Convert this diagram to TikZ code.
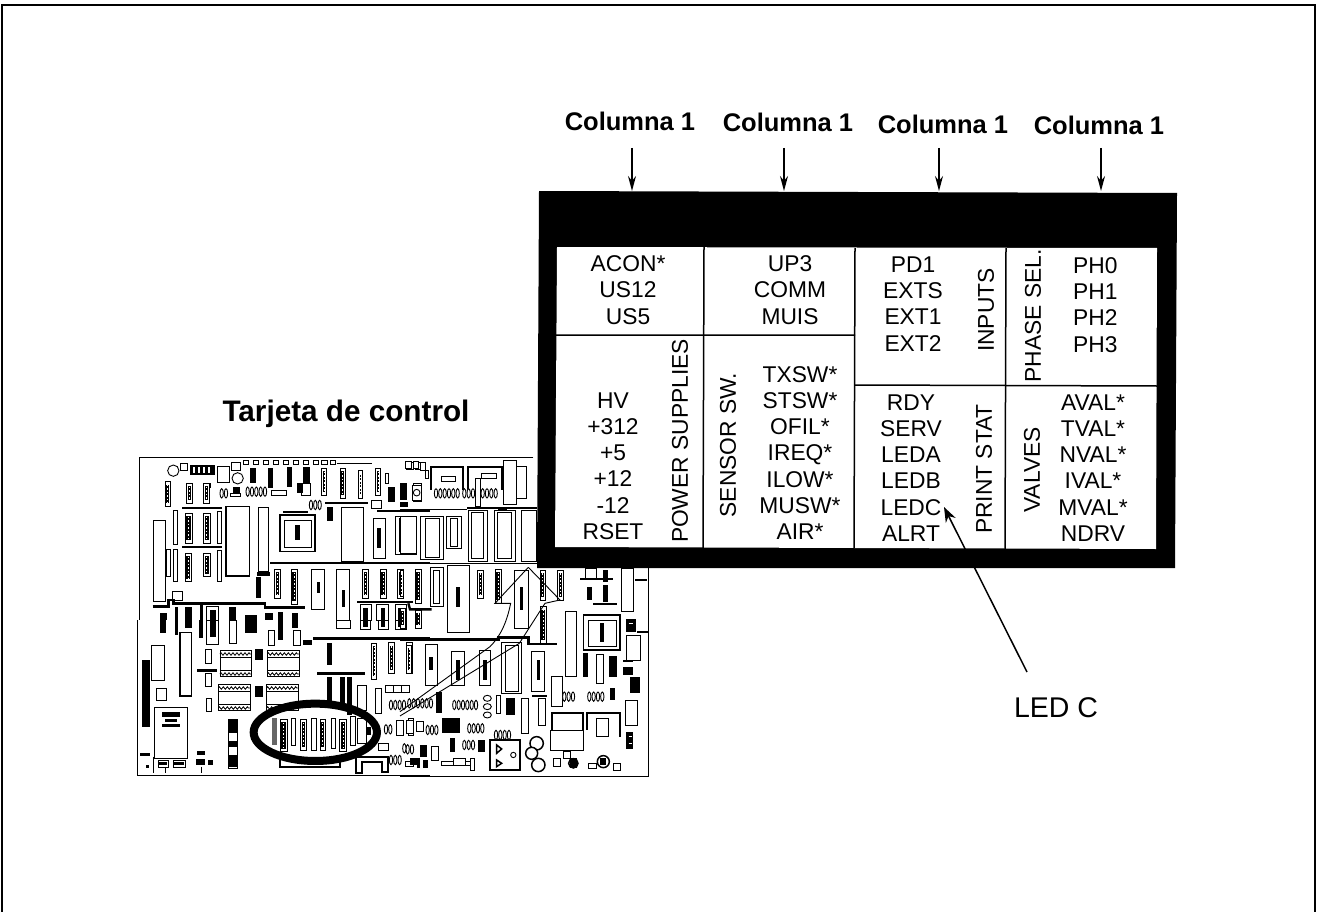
\documentclass[tikz,border=0pt]{standalone}
\usepackage{fontspec}
\setmainfont{Liberation Sans}
\usetikzlibrary{arrows.meta,decorations.pathmorphing}
\tikzset{
 x=1pt,y=-1pt,
 tb/.style={font=\fontsize{22.8}{26.2}\selectfont,align=center,inner sep=0},
 tbl/.style={font=\fontsize{22.8}{26.2}\selectfont,align=left,inner sep=0},
 rot/.style={font=\fontsize{22.8}{26.2}\selectfont,rotate=90,inner sep=0},
 hd/.style={font=\fontsize{25.5}{30}\bfseries\selectfont,inner sep=0},
 arr/.style={-{Stealth[length=15pt,width=8pt]},line width=1.5pt},
 gridl/.style={line width=1.5pt},
 wb/.style={draw=black,fill=white,line width=.9pt},
 wirel/.style={line width=.9pt},
 zz/.style={line width=.8pt,decorate,decoration={zigzag,segment length=4pt,amplitude=1.3pt}},
 z1/.style={shift={(130,450)},x=.3333pt,y=-.3333pt},
 z2/.style={shift={(130,620)},x=.3333pt,y=-.3333pt},
 z3/.style={shift={(400,450)},x=.3333pt,y=-.3333pt},
}
\newcommand{\WB}[1]{\foreach \a/\b/\c/\d in {#1}{\draw[wb] (\a,\b) rectangle (\c,\d);}}
\newcommand{\BK}[1]{\foreach \a/\b/\c/\d in {#1}{\fill[black] (\a,\b) rectangle (\c,\d);}}
\newcommand{\DIPL}[1]{\foreach \a/\b/\c/\d in {#1}{\draw[wb] (\a,\b) rectangle (\c,\d);\fill[black] (\a+4,\b+9) rectangle (\c-4,\d-9);\draw[white,line width=.7pt,dash pattern=on 1.5pt off 2pt] ({(\a+\c)/2},\b+10) -- ({(\a+\c)/2},\d-10);}}
\newcommand{\CTR}[1]{\foreach \a/\b/\c/\d/\e/\f/\g/\h in {#1}{\draw[wb] (\a,\b) rectangle (\c,\d);\fill[black] (\e,\f) rectangle (\g,\h);}}
\newcommand{\OVS}[1]{\foreach \x/\y/\n in {#1}{\foreach \i in {1,...,\n}{\draw[wb] (\x+\i*13,\y) ellipse [x radius=5,y radius=14];}}}
\newcommand{\RELAY}[1]{\foreach \a/\b in {#1}{\draw[wb] (\a,\b) rectangle ++(95,80);\draw[line width=.9pt] (\a,\b+22) -- ++(95,0) (\a,\b+62) -- ++(95,0);\draw[zz] (\a,\b+12) -- ++(95,0);\draw[zz] (\a,\b+72) -- ++(95,0);}}
\begin{document}
\begin{tikzpicture}
\useasboundingbox (0,0) rectangle (1317,912);
\fill[white] (0,0) rectangle (1317,912);
\draw[line width=1.2pt] (2,912) -- (2,5) -- (1315,5) -- (1315,912);
% ---------- board, upper left
\begin{scope}[z1]
\draw[line width=.9pt] (28,22) -- (900,22) (28,22) -- (28,510);
\draw[wb] (130,62) circle [radius=17];
\draw[wb] (323,85) circle [radius=17];
\WB{150/40/172/60,262/48/298/98,305/38/332/60,225/100/240/112,300/130/330/140,425/120/470/135,830/38/850/58,855/38/885/58,725/150/755/175,515/100/540/135,850/100/875/155,765/70/775/100,885/60/895/85}
\foreach \x in {340,370,400,430,460,490,520,550,575,600}{\draw[wb] (\x,32) rectangle ++(16,12);}
\BK{180/45/255/75,360/55/378/100,415/55/430/115,470/50/485/110,500/100/520/130,520/50/540/100,310/110/330/130,620/38/725/42,585/155/715/162,155/170/275/178,155/288/275/295,380/365/420/378,460/182/535/190,590/170/610/212,378/380/392/445,420/336/900/343,775/110/795/155,810/100/830/150,740/180/900/186}
\foreach \x in {190,205,220,235}{\fill[white] (\x,50) rectangle ++(5,20);}
\DIPL{105/95/122/168,170/100/187/160,220/100/237/160,575/55/590/135,630/55/645/145,685/60/697/145,737/55/752/135,165/190/187/280,220/190/240/280,165/310/185/395,220/310/240/380,433/358/452/445,483/358/502/462,697/358/715/445,750/358/770/445,803/358/820/445,855/358/875/460}
\WB{130/182/142/282,262/185/275/280,70/212/105/455,108/298/120/380,130/298/142/395,262/300/275/395,385/172/415/365,128/425/158/450,870/200/900/325}
\draw[wb,line width=1.5pt] (288,170) rectangle (358,378);
\draw[wb,line width=1.5pt] (450,195) rectangle (555,305);
\draw[wb] (462,210) rectangle (545,292);
\BK{495/225/510/270}
\WB{633/172/700/335}
\CTR{730/205/765/325/742/235/752/295,545/358/582/478/560/395/570/430,620/358/658/510/635/420/645/470}
\WB{795/200/860/312}
\draw[wb] (808,205) rectangle (848,305);
\OVS{340/125/5,530/165/3,262/130/2}
\draw[line width=2.4pt] (68,470) -- (115,470) -- (115,450) -- (130,450) -- (130,460) -- (405,460) -- (405,473) -- (525,473);
\BK{680/452/850/458,90/490/110/510,135/470/145/510,165/470/185/510,210/465/220/510,298/470/318/510,345/495/380/510,405/490/430/510,445/485/458/510,485/490/505/510}
\WB{230/470/265/510,690/462/725/510,740/462/775/510,795/462/830/510}
\BK{240/480/258/510,700/475/715/510,752/475/765/510,805/475/820/510}
\end{scope}
% ---------- board, lower left
\begin{scope}[z2]
\draw[line width=.9pt] (22,0) -- (22,465) -- (900,465);
\WB{230/0/265/72,298/0/318/70,415/32/433/75,490/30/510/75,618/0/660/25,690/0/720/28,745/0/775/28,795/0/830/28,860/0/875/25,65/75/103/182,80/205/110/240,227/88/245/130,225/160/243/200,228/235/243/275,683/195/708/270,735/205/755/280,885/72/900/195,72/263/172/415}
\BK{90/0/108/40,135/0/145/45,165/0/185/25,208/0/220/55,240/0/258/50,345/0/380/40,445/0/458/60,485/0/505/25,700/0/715/20,752/0/765/20,805/0/820/20,200/148/262/156,550/52/900/60,560/157/705/164,590/70/607/135,590/172/605/245,630/170/645/260,650/170/665/285,35/120/60/320,95/275/150/290,105/298/140/305,95/312/150/320,375/88/398/120,375/198/398/232,520/60/545/75}
\draw[wb,line width=1.5pt] (150,38) rectangle (185,228);
\RELAY{270/90,412/90,265/192,410/192}
\DIPL{725/70/740/178,775/68/793/160,830/68/846/160}
\WB{765/195/790/218,790/195/815/218,815/195/838/218}
\OVS{770/255/4,825/250/6,755/328/2}
\WB{835/295/850/345,860/305/880/335,800/300/820/345}
% inside the ellipse
\fill[black!60] (425,295) rectangle (440,375);
\DIPL{450/298/472/395,512/298/530/390,570/298/587/390,628/298/650/395}
\WB{483/295/497/375,545/295/558/390,603/295/617/385,660/290/675/375,683/295/710/370}
\BK{708/322/722/345}
\draw[black,line width=8pt] (556,337) ellipse [x radius=185,y radius=86];
\draw[line width=2pt] (450,420) -- (450,440) -- (630,440) -- (630,425);
\draw[line width=2pt] (678,458) -- (678,412) -- (775,412) -- (775,455) -- (755,455) -- (755,425) -- (695,425) -- (695,458) -- cycle;
% lower-left marks
\draw[wb,line width=1.5pt] (295,298) rectangle (322,445);
\BK{298/300/320/340,298/362/320/380,298/405/320/440}
\WB{85/420/115/443,130/420/165/443}
\BK{88/425/112/435,133/425/162/435,200/392/225/405,198/418/225/435,235/420/250/435,30/400/60/408,48/435/56/445}
\draw[line width=.9pt] (70,410) -- (70,460) (215,440) -- (215,460) (105,445) -- (105,460);
\WB{745/370/775/390}
\OVS{820/388/2,770/420/3}
\BK{870/375/890/410,880/420/895/445,860/425/870/445}
\WB{825/425/850/440}
\end{scope}
% ---------- board, right
\begin{scope}[z3]
\draw[line width=.9pt] (400,22) -- (0,22) (745,350) -- (745,978) -- (0,978);
\WB{310/30/350/163,350/50/380/145,15/35/35/55,40/35/55/55,60/38/75/60,38/105/65/150}
\draw[wb] (50,128) circle [radius=10];
\draw[line width=1.8pt] (92,120) -- (92,52) -- (190,52) -- (190,120) (205,120) -- (205,52) -- (305,52) -- (305,120);
\WB{125/80/165/95,225/85/240/170,245/70/290/85}
\OVS{95/130/6,180/130/3,235/130/4}
\BK{0/110/20/150,0/155/25/170,295/170/320/180,0/176/200/181,200/172/410/178,215/170/225/178,0/338/410/343}
\WB{0/200/50/310,62/200/130/328,140/200/185/295,205/180/262/335,282/180/345/335,365/180/410/335}
\draw[wb] (75,205) rectangle (118,322);
\WB{152/205/172/290,215/188/250/325,292/188/335/325}
\DIPL{0/360/10/440,45/358/65/460,233/360/250/445,285/358/303/460,420/360/437/450,472/360/490/450,420/470/440/580,20/585/35/670,0/475/15/535,45/480/65/535}
\WB{90/352/130/468}
\WB{100/360/118/460}
\CTR{142/345/208/548/168/410/180/470,342/360/385/535/360/410/370/480,75/583/112/705/88/620/100/660,155/605/192/705/168/630/180/690,238/600/272/705/250/630/262/690,395/605/433/725/410/630/420/690}
\draw[line width=2.4pt] (25,460) -- (30,478) -- (95,478);
\draw[line width=2.4pt] (0,568) -- (295,568) -- (295,562) -- (385,562) -- (385,582) -- (470,582);
\draw[wb,line width=1.5pt] (305,578) rectangle (365,730);
\draw[wb] (315,585) rectangle (355,725);
\draw[wirel] (385,352) -- (285,460) -- (332,460) .. controls (320,520) and (300,560) .. (270,590) -- (0,785);
\draw[wirel] (385,352) -- (480,450) -- (435,460) -- (358,580) -- (0,798);
\WB{495/483/530/678}
\draw[wb,line width=1.5pt] (550,495) rectangle (660,600);
\draw[wb] (565,510) rectangle (648,590);
\WB{590/612/610/700,665/355/700/485,680/555/720/630,675/752/712/825,455/680/488/770,365/745/385/850,415/745/435/825,290/735/300/790,20/810/40/850,50/815/70/845,555/355/590/385}
\BK{600/520/612/575,548/610/565/680,628/618/650/680,540/383/640/390,560/410/575/450,610/360/625/395,610/405/625/455,580/458/650/464,705/388/740/394,710/543/745/548,670/630/700/636,678/508/708/545,678/845/700/898,670/650/700/675,690/680/720/730,630/715/645/750,108/725/125/790,318/745/345/795,150/865/165/905,125/805/180/850,65/885/80/920,235/870/255/905}
\BK{395/735/440/742}
\draw[white,line width=1pt] (686,520) -- (700,520) (686,860) -- (695,860) (686,880) -- (695,880);
\OVS{480/740/3,555/740/4,150/765/6,70/840/3,195/835/4,180/885/3}
\foreach \y in {745,770,795}{\draw[wb] (262,\y) ellipse [x radius=12,y radius=9];}
\draw[line width=1.8pt] (455,840) -- (455,790) -- (550,790) -- (550,840) (560,840) -- (560,790) -- (660,790) -- (660,860);
\WB{450/840/550/900,590/805/625/860,95/890/115/930,125/935/220/945,160/925/195/945,210/925/222/960}
\draw[wb,line width=1.5pt] (270,870) rectangle (360,960);
\draw[line width=1.5pt] (290,885) -- (290,910) -- (305,897) -- cycle (290,930) -- (290,950) -- (305,940) -- cycle;
\draw[wb] (340,915) circle [radius=8];
\OVS{275/855/4,0/895/1}
\foreach \x/\y/\r in {410/880/20,395/910/18,415/945/20,610/935/18,520/940/14}{\draw[wb,line width=1.5pt] (\x,\y) circle [radius=\r];}
\WB{565/940/590/955,640/940/660/960,460/925/480/950,490/905/510/925}
\BK{30/925/60/945,510/925/530/955,600/925/618/945}
\end{scope}
% ---------- table
\fill[black] (539,191) -- (1177,193) -- (1175,568) -- (537,568) -- cycle;
\fill[white] (557,247) -- (1157,248) -- (1156,549) -- (555,547) -- cycle;
\draw[gridl] (704,247) -- (703,548) (855,248) -- (854,548) (1006,248) -- (1005,549);
\draw[gridl] (556,335) -- (855,335) (855,385) -- (1157,386);
\node[tb] (t1) at (628,290) {ACON*\\US12\\US5};
\node[tb] (t2) at (790,290) {UP3\\COMM\\MUIS};
\node[tb] (t3) at (913,304) {PD1\\EXTS\\EXT1\\EXT2};
\node[tbl,anchor=west] (t4) at (1073,305) {PH0\\PH1\\PH2\\PH3};
\node[tb] (t5) at (613,466) {HV\\+312\\+5\\+12\\-12\\RSET};
\node[rot] (r1) at (680,441) {POWER SUPPLIES};
\node[rot] (r2) at (728,445) {SENSOR SW.};
\node[tb] (t6) at (800,453) {TXSW*\\STSW*\\OFIL*\\IREQ*\\ILOW*\\MUSW*\\AIR*};
\node[rot] (r3) at (986,310) {INPUTS};
\node[rot] (r4) at (1033,316) {PHASE SEL.};
\node[tb] (t7) at (911,468) {RDY\\SERV\\LEDA\\LEDB\\LEDC\\ALRT};
\node[rot] (r5) at (984,469) {PRINT STAT};
\node[rot] (r6) at (1032,470) {VALVES};
\node[tb] (t8) at (1093,468) {AVAL*\\TVAL*\\NVAL*\\IVAL*\\MVAL*\\NDRV};
% headings and arrows
\node[hd] (h1) at (630,121) {Columna 1};
\node[hd] (h2) at (788,122) {Columna 1};
\node[hd] (h3) at (943,124) {Columna 1};
\node[hd] (h4) at (1099,125) {Columna 1};
\node[font=\fontsize{29.7}{34}\bfseries\selectfont,inner sep=0] (tc) at (346,414) {Tarjeta de control};
\node[font=\fontsize{28.5}{34}\selectfont,inner sep=0] (led) at (1056,708) {LED C};
\foreach \n/\x in {1/632,2/784,3/939,4/1101}{
 \coordinate (as\n) at (\x,148);
 \coordinate (ae\n) at (\x,191);
 \draw[arr] (as\n) -- (ae\n);}
\coordinate (ls) at (1027,672);
\coordinate (le) at (944,507);
\draw[-{Stealth[length=15pt,width=11pt]},line width=1.5pt] (ls) -- (le);
\end{tikzpicture}
\end{document}
